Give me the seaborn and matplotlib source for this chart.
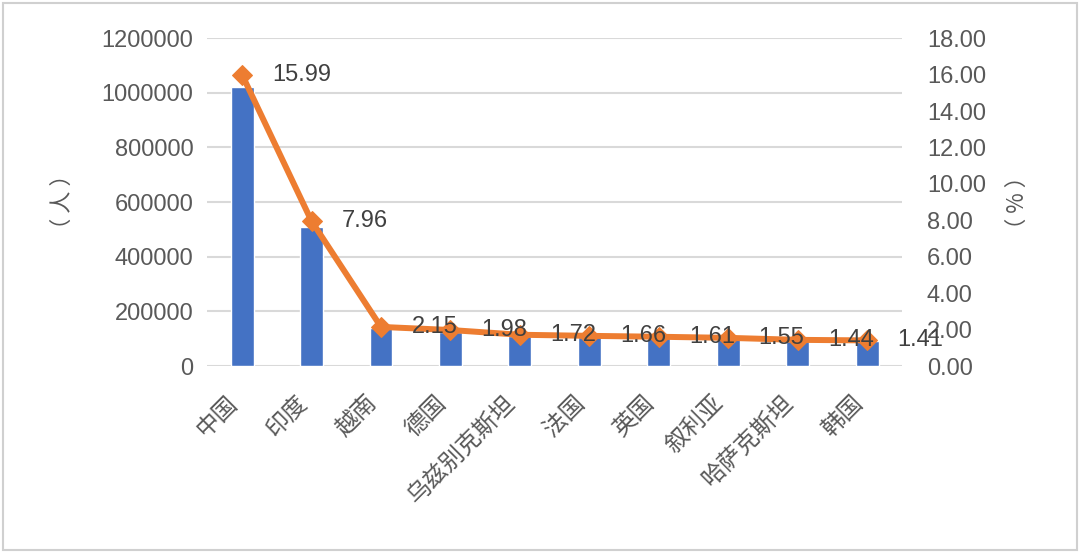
import matplotlib
matplotlib.use("Agg")
import matplotlib.pyplot as plt
import matplotlib.transforms as mtransforms
import seaborn as sns
import numpy as np
import pandas as pd

countries = ["中国", "印度", "越南", "德国", "乌兹别克斯坦", "法国", "英国", "叙利亚", "哈萨克斯坦", "韩国"]
people = [1020000, 508000, 140000, 126000, 110000, 106000, 103000, 99000, 92000, 90000]
percent = [15.99, 7.96, 2.15, 1.98, 1.72, 1.66, 1.61, 1.55, 1.44, 1.41]
left_ticks = [0, 200000, 400000, 600000, 800000, 1000000, 1200000]
right_ticks = [0, 2, 4, 6, 8, 10, 12, 14, 16, 18]

sns.set_theme(style="white")
plt.rcParams['font.family'] = ['Liberation Sans', 'Noto Sans CJK SC', 'DejaVu Sans']

BAR = "#4472C4"
LINE = "#ED7D31"
TICK = "#595959"
GRID = "#D9D9D9"
CJK = ['Noto Sans CJK SC', 'DejaVu Sans']

fig = plt.figure(figsize=(10.8, 5.53), dpi=100)
fig.patch.set_facecolor("white")
border = plt.Rectangle((0.003, 0.005), 0.994, 0.99, transform=fig.transFigure,
                       fill=False, edgecolor="#D0D0D0", linewidth=1.5)
fig.patches.append(border)

ax = fig.add_axes([0.192, 0.338, 0.643, 0.593])
df = pd.DataFrame({"country": countries, "people": people, "percent": percent})
sns.barplot(data=df, x="country", y="people", color=BAR, width=0.33, ax=ax,
            saturation=1, zorder=2)
ax.set_ylim(0, 1200000)
ax.set_yticks(left_ticks)
ax.set_yticklabels([str(v) for v in left_ticks], fontsize=17, color=TICK)
ax.yaxis.grid(True, color=GRID, linewidth=1.5, zorder=0)
ax.set_axisbelow(True)
for s in ax.spines.values():
    s.set_visible(False)
ax.tick_params(axis="both", length=0, pad=10)
ax.set_xlabel("")
ax.set_ylabel("（ 人 ）", fontsize=16, color=TICK, family=CJK, labelpad=20)
ax.set_xticks(range(len(countries)))
ax.set_xticklabels(countries, rotation=45, ha="right", va="center", rotation_mode="anchor",
                   fontsize=17, color=TICK, family=CJK)
ax.tick_params(axis="x", pad=24)
shift = mtransforms.ScaledTranslation(-8 / 100, 0, fig.dpi_scale_trans)
for lab in ax.get_xticklabels():
    lab.set_transform(lab.get_transform() + shift)

ax2 = ax.twinx()
sns.lineplot(x=np.arange(len(percent)), y=percent, ax=ax2, color=LINE, linewidth=4.3,
             marker="D", markersize=10, markeredgecolor=LINE, zorder=3)
ax2.set_ylim(0, 18)
ax2.set_xlim(-0.5, len(countries) - 0.5)
ax2.set_yticks(right_ticks)
ax2.set_yticklabels([f"{v:.2f}" for v in right_ticks], fontsize=17, color=TICK)
ax2.tick_params(axis="y", length=0, pad=18)
for s in ax2.spines.values():
    s.set_visible(False)
ax2.set_ylabel("（ % ）", fontsize=16, color=TICK, family=CJK, rotation=90, labelpad=14)

for i, v in enumerate(percent):
    ax2.annotate(f"{v:.2f}", (i, v), xytext=(22, 0), textcoords="offset points",
                 ha="left", va="center", fontsize=17, color="#404040", zorder=4)

fig.savefig("out.png", dpi=100)
